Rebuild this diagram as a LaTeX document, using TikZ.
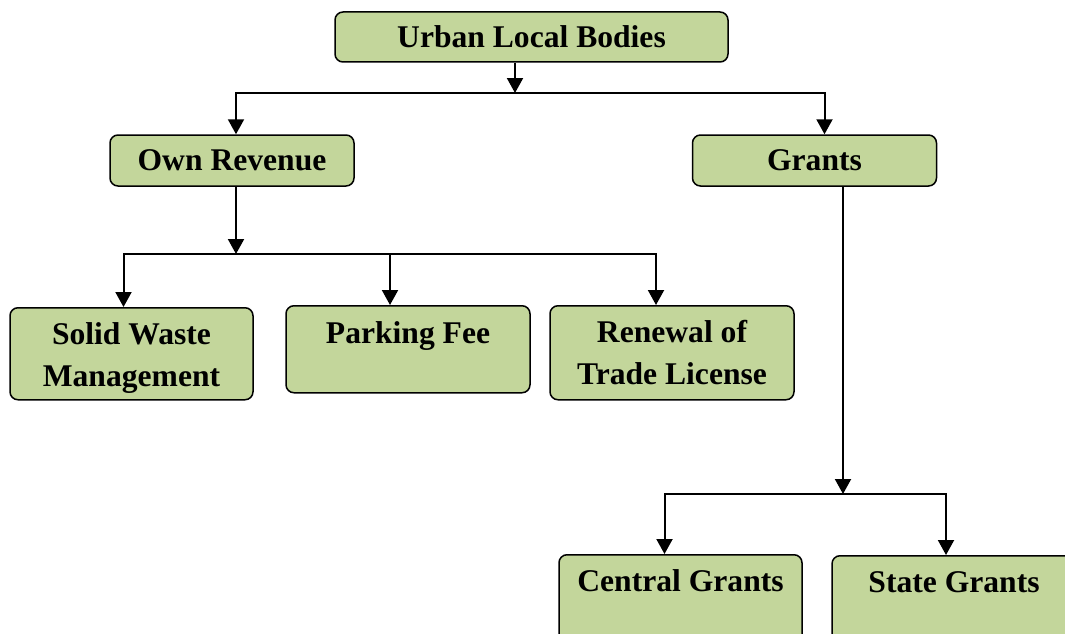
\documentclass[tikz,border=0pt]{standalone}
\usepackage{fontspec}
\setmainfont{Liberation Serif}
\usetikzlibrary{arrows.meta}
\definecolor{boxgreen}{HTML}{C3D69B}
\tikzset{
  box/.style={draw, line width=1.5pt, rounded corners=8pt, fill=boxgreen,
    minimum width=244pt, align=center,
    font=\fontsize{31.6}{42}\selectfont\bfseries},
  arr/.style={line width=2pt, -{Triangle[width=16pt, length=15pt]}}
}

\begin{document}
\begin{tikzpicture}[x=1pt, y=-1pt] % 1ピクセル=1pt、y軸は下向き
  \useasboundingbox[fill=white] (0,0) rectangle (1065,634); % 全体の大きさ

  \node[box, minimum width=393pt, minimum height=50pt] (ulb) at (531.5,37) {Urban Local Bodies}; % 最上段
  \node[box, minimum height=51pt] (own) at (232,160.5) {Own Revenue}; % 二段目
  \node[box, minimum height=51pt] (grants) at (814.5,160.5) {Grants};

  \node[box, anchor=north, minimum width=243pt, inner ysep=0pt, text height=79pt, text depth=13pt] (swm) at (131.5,307) {Solid Waste\\Management}; % 三段目
  \node[box, anchor=north, inner ysep=0pt, text height=38pt, text depth=49pt] (parking) at (408,305) {Parking Fee};
  \node[box, anchor=north, inner ysep=0pt, text height=79pt, text depth=15pt] (renewal) at (672,305) {Renewal of\\Trade License};

  \node[box, anchor=north, minimum width=243pt, inner ysep=0pt, text height=37pt, text depth=60pt] (central) at (680.5,554) {Central Grants}; % 最下段、下端は切れる
  \node[box, anchor=north, inner ysep=0pt, text height=37pt, text depth=60pt] (state) at (954,555) {State Grants};

  \coordinate (j1) at (515,93); % 分岐点
  \coordinate (j2) at (236,254);
  \coordinate (j3) at (843,494);

  \draw[arr] (ulb.south -| j1) -- (j1);
  \draw[arr] (j1) -| ([xshift=4pt]own.north);
  \draw[arr] (j1) -| ([xshift=10pt]grants.north);

  \draw[arr] (own.south -| j2) -- (j2);
  \draw[arr] (j2) -| ([xshift=-8pt]swm.north);
  \draw[arr] (j2) -| ([xshift=-18pt]parking.north);
  \draw[arr] (j2) -| ([xshift=-16pt]renewal.north);

  \draw[arr] (grants.south -| j3) -- (j3);
  \draw[arr] (j3) -| ([xshift=-16pt]central.north);
  \draw[arr] (j3) -| ([xshift=-8pt]state.north);

\end{tikzpicture}
\end{document}
